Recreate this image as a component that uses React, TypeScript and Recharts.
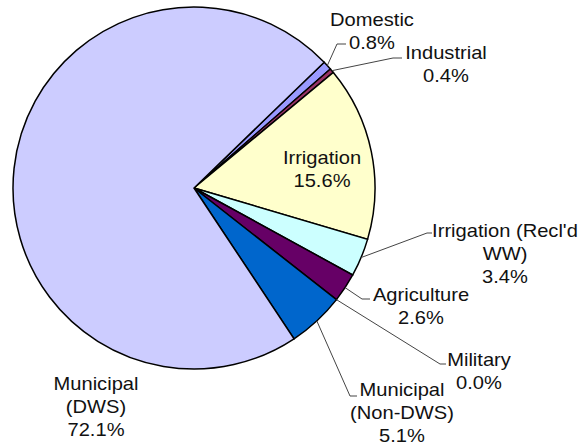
import React from "react";
import { PieChart, Pie, Cell } from "recharts";

const categories = [
  "Domestic",
  "Industrial",
  "Irrigation",
  "Irrigation (Recl'd WW)",
  "Agriculture",
  "Military",
  "Municipal (Non-DWS)",
  "Municipal (DWS)",
];
const shares = [0.8, 0.4, 15.6, 3.4, 2.6, 0.0, 5.1, 72.1];
const labelLines = [
  ["Domestic"],
  ["Industrial"],
  ["Irrigation"],
  ["Irrigation (Recl'd", "WW)"],
  ["Agriculture"],
  ["Military"],
  ["Municipal", "(Non-DWS)"],
  ["Municipal", "(DWS)"],
];

const colors = ["#9999FF", "#993366", "#FFFFCC", "#CCFFFF", "#660066", "#FF8080", "#0066CC", "#CCCCFF"];

// label placement: text centre x, first line y, optional leader elbow + end
const labelPos: { x: number; y: number; elbow?: [number, number]; end?: [number, number] }[] = [
  { x: 372, y: 20, elbow: [337, 44], end: [346, 44] },
  { x: 446, y: 53, elbow: [393, 58], end: [402, 58] },
  { x: 322, y: 158 },
  { x: 505, y: 231, elbow: [427, 233], end: [432, 233] },
  { x: 421, y: 295, elbow: [362, 299], end: [370, 299] },
  { x: 479, y: 360, elbow: [440, 364], end: [446, 364] },
  { x: 402, y: 390, elbow: [350, 396], end: [357, 396] },
  { x: 96, y: 384 },
];

const data = categories.map((name, i) => ({ name, value: shares[i] }));

const RAD = Math.PI / 180;
const LINE_H = 23;

function renderLabel(props: any) {
  const { cx, cy, midAngle, outerRadius, index } = props;
  const pos = labelPos[index];
  const lines = [...labelLines[index], `${shares[index].toFixed(1)}%`];
  const ex = cx + outerRadius * Math.cos(-midAngle * RAD);
  const ey = cy + outerRadius * Math.sin(-midAngle * RAD);
  return (
    <g key={`lbl-${index}`}>
      {pos.elbow && pos.end && (
        <polyline
          points={`${ex},${ey} ${pos.elbow[0]},${pos.elbow[1]} ${pos.end[0]},${pos.end[1]}`}
          fill="none"
          stroke="#444"
          strokeWidth={1}
        />
      )}
      {lines.map((t, j) => (
        <text
          key={j}
          transform={`translate(${pos.x},${pos.y + j * LINE_H}) scale(1.15,1)`}
          textAnchor="middle"
          dominantBaseline="central"
          fontSize={17.5}
          fontFamily="'Liberation Sans', Arial, sans-serif"
          fill="#111"
        >
          {t}
        </text>
      ))}
    </g>
  );
}

export default function App() {
  return (
    <div style={{ width: 579, height: 446, background: "#fff" }}>
      <style>{`body{margin:0}`}</style>
      <PieChart width={579} height={446} margin={{ top: 0, right: 0, bottom: 0, left: 0 }}>
        <Pie
          data={data}
          dataKey="value"
          nameKey="name"
          cx={194}
          cy={188}
          outerRadius={181}
          startAngle={44}
          endAngle={-316}
          stroke="#000"
          strokeWidth={1.5}
          label={renderLabel}
          labelLine={false}
          isAnimationActive={false}
        >
          {data.map((d, i) => (
            <Cell key={d.name} fill={colors[i]} />
          ))}
        </Pie>
      </PieChart>
    </div>
  );
}
